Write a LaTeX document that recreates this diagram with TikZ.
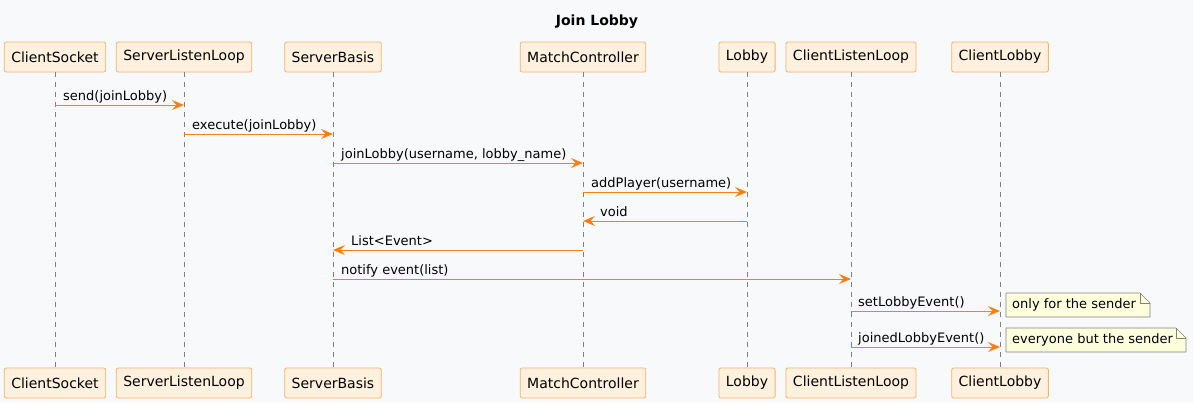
\documentclass[tikz,border=0pt]{standalone}
\usepackage{fontspec}
\setmainfont{DejaVu Sans}
\usetikzlibrary{arrows.meta}
\definecolor{bgc}{HTML}{F8F9FA}
\definecolor{boxfill}{HTML}{FFF1DE}
\definecolor{boxline}{HTML}{F5B26C}
\definecolor{msgc}{HTML}{FF7F0E}
\definecolor{notefill}{HTML}{FEFFDD}
\tikzset{
  part/.style={draw=boxline, fill=boxfill, rounded corners=2pt, line width=.8pt,
    minimum height=30pt, inner xsep=7pt, font=\fontsize{14pt}{16pt}\selectfont},
  life/.style={draw=gray, dashed, dash pattern=on 5pt off 5pt, line width=.6pt},
  msg/.style={draw=msgc, line width=1pt, -{Stealth[length=12pt,width=10pt,inset=4.5pt]}},
  lbl/.style={anchor=base west, inner sep=0pt, font=\fontsize{13pt}{15pt}\selectfont},
  notebox/.style={draw=gray, fill=notefill, line width=.6pt},
  notetext/.style={anchor=west, inner sep=0pt, font=\fontsize{13pt}{15pt}\selectfont}
}
\begin{document}
\begin{tikzpicture}[x=1pt, y=-1pt, line join=round]
  \fill[bgc] (0,0) rectangle (1193,402);
  \useasboundingbox (0,0) rectangle (1193,402);
  \node[font=\bfseries\fontsize{14pt}{16pt}\selectfont] (title) at (597,22) {Join Lobby};
  % participants, top and bottom
  \foreach \n/\x/\t in {cs/55/ClientSocket, sll/184/ServerListenLoop, sb/333/ServerBasis,
      mc/583/MatchController, lob/747/Lobby, cll/851/ClientListenLoop, cl/1000/ClientLobby}{
    \node[part] (\n) at (\x,57) {\t};
    \node[part] (\n b) at (\x,383) {\t};
    \draw[life] (\n.south) -- (\n b.north);
  }
  % messages
  \draw[msg] (cs.south |- 0,105) -- (sll.south |- 0,105);
  \node[lbl] (m1) at (63,100) {send(joinLobby)};
  \draw[msg] (sll.south |- 0,134) -- (sb.south |- 0,134);
  \node[lbl] (m2) at (192,129) {execute(joinLobby)};
  \draw[msg] (sb.south |- 0,163) -- (mc.south |- 0,163);
  \node[lbl] (m3) at (341,158) {joinLobby(username, lobby\_name)};
  \draw[msg] (mc.south |- 0,192) -- (lob.south |- 0,192);
  \node[lbl] (m4) at (591,187) {addPlayer(username)};
  \draw[msg] (lob.south |- 0,221) -- (mc.south |- 0,221);
  \node[lbl] (m5) at (600,216) {void};
  \draw[msg] (mc.south |- 0,250) -- (sb.south |- 0,250);
  \node[lbl] (m6) at (351,245) {List<Event>};
  \draw[msg] (sb.south |- 0,279) -- (cll.south |- 0,279);
  \node[lbl] (m7) at (341,274) {notify event(list)};
  \draw[msg] (cll.south |- 0,311) -- (cl.south |- 0,311);
  \node[lbl] (m8) at (858,306) {setLobbyEvent()};
  \draw[msg] (cll.south |- 0,347) -- (cl.south |- 0,347);
  \node[lbl] (m9) at (858,342) {joinedLobbyEvent()};
  % notes
  \draw[notebox] (1006,293) -- (1140,293) -- (1150,303) -- (1150,317) -- (1006,317) -- cycle;
  \draw[notebox, fill=none] (1140,293) -- (1140,303) -- (1150,303);
  \node[notetext] (n1) at (1012,305) {only for the sender};
  \draw[notebox] (1006,328) -- (1176,328) -- (1186,338) -- (1186,352) -- (1006,352) -- cycle;
  \draw[notebox, fill=none] (1176,328) -- (1176,338) -- (1186,338);
  \node[notetext] (n2) at (1012,340) {everyone but the sender};
\end{tikzpicture}
\end{document}
